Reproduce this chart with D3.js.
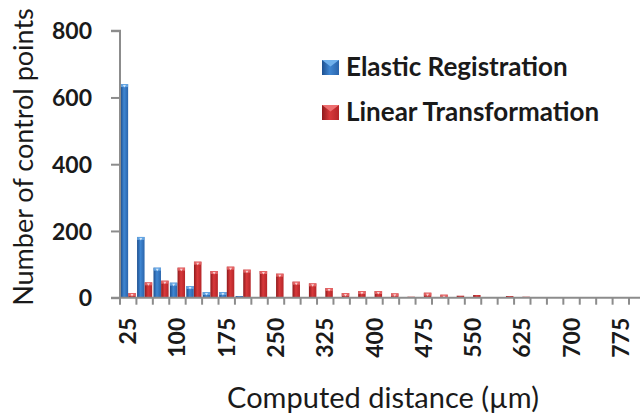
<!DOCTYPE html>
<html><head><meta charset="utf-8">
<script src="https://cdn.jsdelivr.net/npm/d3@7/dist/d3.min.js"></script>
<style>html,body{margin:0;padding:0;background:#fff;overflow:hidden}</style>
</head><body>
<svg id="chart" width="640" height="418"></svg>
<script>
const categories = [25,50,75,100,125,150,175,200,225,250,275,300,325,350,375,400,425,450,475,500,525,550,575,600,625,650,675,700,725,750,775,800];
const elasticValues = [640,182,90,45,35,17,17,5,1,0,0,0,0,0,0,0,0,0,0,0,0,0,0,0,0,0,0,0,0,0,0,0];
const linearValues = [14,46,51,90,108,80,93,84,80,72,48,43,29,14,20,20,13,3,15,9,6,8,2,5,3,2,1,1,2,0,1,0];
const yTicks = [0,200,400,600,800];
const xTickLabels = [25,100,175,250,325,400,475,550,625,700,775];
const seriesNames = ["Elastic Registration","Linear Transformation"];

const svg = d3.select("#chart");
const font = "Lato, 'Open Sans', sans-serif";
const defs = svg.append("defs");
function grad(id, dark, mid, light){
  const g = defs.append("linearGradient").attr("id", id).attr("x1","0%").attr("x2","100%").attr("y1","0%").attr("y2","0%");
  g.append("stop").attr("offset","0%").attr("stop-color", dark);
  g.append("stop").attr("offset","45%").attr("stop-color", light);
  g.append("stop").attr("offset","100%").attr("stop-color", mid);
}
grad("gBlue", "#1d4f8f", "#2a64ab", "#3f86d2");
grad("gRed", "#8f1a1c", "#b52528", "#d8393b");
const colors = ["url(#gBlue)", "url(#gRed)"];
const caps = ["#6fb0ec", "#ee6f70"];

const x0 = 120, xBand = 16.42;
const x = d3.scaleBand().domain(categories).range([x0, x0 + xBand*categories.length]).paddingInner(0.06).paddingOuter(0.03);
const xs = d3.scaleBand().domain([0,1]).range([0, x.bandwidth()]).padding(0.02);
const y = d3.scaleLinear().domain([0,800]).range([297.7, 30.7]);

// bars
const series = [elasticValues, linearValues];
series.forEach((vals, si) => {
  const g = svg.append("g");
  vals.forEach((v, i) => {
    if (v <= 0) return;
    const bx = x(categories[i]) + xs(si), bw = xs.bandwidth();
    const top = y(v), h = y(0) - top;
    g.append("rect").attr("x", bx).attr("y", top).attr("width", bw).attr("height", h).attr("fill", colors[si]);
    if (h > 3) {
      g.append("rect").attr("x", bx).attr("y", top).attr("width", bw).attr("height", Math.min(3, h)).attr("fill", caps[si]).attr("opacity", 0.8);
      g.append("path").attr("d", `M${bx+bw*0.3},${top+1}L${bx+bw*0.7},${top+1}L${bx+bw*0.5},${top+3.5}Z`).attr("fill", "#fff").attr("opacity", 0.7);
    }
  });
});

// axes
const axisColor = "#8c8c8c";
const yAxis = d3.axisLeft(y).tickValues(yTicks).tickSize(9).tickFormat(d3.format("d"));
const gy = svg.append("g").attr("transform", `translate(${x0},0)`).call(yAxis);
gy.select(".domain").attr("stroke", axisColor).attr("stroke-width", 2).attr("d", `M-9,${y(800)}H0V${y(0)}`);
gy.selectAll(".tick line").attr("stroke", axisColor).attr("stroke-width", 2);
gy.selectAll(".tick text").attr("x", -28).attr("dy", "0.36em").attr("font-family", font).attr("font-weight", "bold").attr("font-size", 23).attr("fill", "#1a1a1a");

// x axis: ticks at category boundaries
const boundaries = categories.map(c => x(c) - x.step()*x.paddingInner()/2);
boundaries.push(x0 + xBand*categories.length);
const gx = svg.append("g");
gx.append("line").attr("x1", x0-9).attr("x2", 645).attr("y1", y(0)).attr("y2", y(0)).attr("stroke", axisColor).attr("stroke-width", 2);
gx.selectAll("line.t").data(boundaries).join("line").attr("class","t")
  .attr("x1", d=>d).attr("x2", d=>d).attr("y1", y(0)).attr("y2", y(0)+7).attr("stroke", axisColor).attr("stroke-width", 2);
gx.selectAll("text").data(xTickLabels).join("text")
  .attr("transform", d => `translate(${x(d)+x.bandwidth()/2+8},${y(0)+20}) rotate(-90)`)
  .attr("text-anchor", "end").attr("font-family", font).attr("font-weight", "bold").attr("font-size", 23).attr("fill", "#1a1a1a")
  .text(d => d);

// titles
svg.append("text").attr("transform", "translate(33,157) rotate(-90)").attr("text-anchor","middle")
  .attr("font-family", font).attr("font-size", 27).attr("fill", "#1a1a1a").text("Number of control points");
svg.append("text").attr("x", 383).attr("y", 408).attr("text-anchor","middle")
  .attr("font-family", font).attr("font-size", 29).attr("fill", "#1a1a1a").text("Computed distance (µm)");

// legend
const leg = svg.append("g");
seriesNames.forEach((n, i) => {
  const ly = 67.5 + i*45;
  leg.append("rect").attr("x", 322).attr("y", ly-7.5).attr("width", 17).attr("height", 15).attr("fill", colors[i]);
  leg.append("path").attr("d", `M322,${ly-7.5}L339,${ly-7.5}L330.5,${ly-1}Z`).attr("fill", caps[i]);
  leg.append("text").attr("x", 346).attr("y", ly+8).attr("font-family", font).attr("font-weight","bold").attr("font-size", 26).attr("fill", "#1a1a1a").text(n);
});
</script>
</body></html>
